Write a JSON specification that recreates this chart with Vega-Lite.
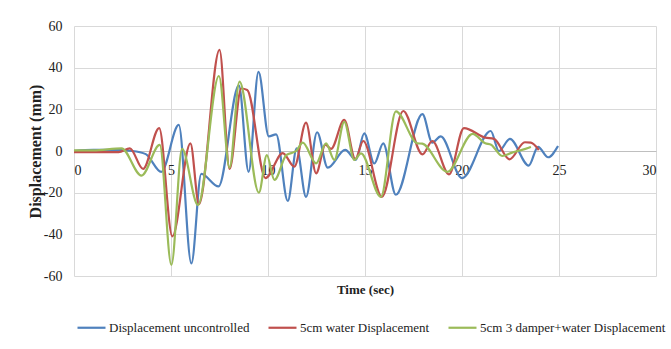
{
  "$schema": "https://vega.github.io/schema/vega-lite/v6.json",
  "width": 582,
  "height": 250,
  "autosize": {"type": "none"},
  "padding": {"left": 74, "top": 26, "right": 15, "bottom": 73},
  "background": "white",
  "config": {
    "font": "Liberation Serif",
    "view": {"stroke": null},
    "axis": {"labelFont": "Liberation Serif", "titleFont": "Liberation Serif"},
    "legend": {"labelFont": "Liberation Serif", "titleFont": "Liberation Serif"}
  },
  "data": {
    "values": [
      {"t": 0, "d": 0, "s": "Displacement uncontrolled"},
      {"t": 1, "d": 0.5, "s": "Displacement uncontrolled"},
      {"t": 2, "d": 0.5, "s": "Displacement uncontrolled"},
      {"t": 3, "d": 0, "s": "Displacement uncontrolled"},
      {"t": 3.7, "d": -1.5, "s": "Displacement uncontrolled"},
      {"t": 4.5, "d": -10, "s": "Displacement uncontrolled"},
      {"t": 5.4, "d": 12.5, "s": "Displacement uncontrolled"},
      {"t": 6.05, "d": -54, "s": "Displacement uncontrolled"},
      {"t": 6.56, "d": -11, "s": "Displacement uncontrolled"},
      {"t": 7.45, "d": -17, "s": "Displacement uncontrolled"},
      {"t": 8.5, "d": 31.5, "s": "Displacement uncontrolled"},
      {"t": 9.0, "d": -10, "s": "Displacement uncontrolled"},
      {"t": 9.51, "d": 38, "s": "Displacement uncontrolled"},
      {"t": 10.04, "d": 7, "s": "Displacement uncontrolled"},
      {"t": 10.42, "d": 8, "s": "Displacement uncontrolled"},
      {"t": 11.02, "d": -24, "s": "Displacement uncontrolled"},
      {"t": 11.48, "d": 1.3, "s": "Displacement uncontrolled"},
      {"t": 11.96, "d": -22, "s": "Displacement uncontrolled"},
      {"t": 12.53, "d": 9, "s": "Displacement uncontrolled"},
      {"t": 13.08, "d": -8, "s": "Displacement uncontrolled"},
      {"t": 13.98, "d": 0.5, "s": "Displacement uncontrolled"},
      {"t": 14.53, "d": -4.3, "s": "Displacement uncontrolled"},
      {"t": 14.96, "d": 8.5, "s": "Displacement uncontrolled"},
      {"t": 15.48, "d": -6, "s": "Displacement uncontrolled"},
      {"t": 15.94, "d": 3.7, "s": "Displacement uncontrolled"},
      {"t": 16.59, "d": -21, "s": "Displacement uncontrolled"},
      {"t": 17.96, "d": 17.7, "s": "Displacement uncontrolled"},
      {"t": 18.47, "d": 4, "s": "Displacement uncontrolled"},
      {"t": 18.9, "d": 7, "s": "Displacement uncontrolled"},
      {"t": 20.0, "d": -13, "s": "Displacement uncontrolled"},
      {"t": 21.48, "d": 9.6, "s": "Displacement uncontrolled"},
      {"t": 21.9, "d": 0, "s": "Displacement uncontrolled"},
      {"t": 22.47, "d": 5.8, "s": "Displacement uncontrolled"},
      {"t": 23.44, "d": -7, "s": "Displacement uncontrolled"},
      {"t": 23.92, "d": 2, "s": "Displacement uncontrolled"},
      {"t": 24.44, "d": -3, "s": "Displacement uncontrolled"},
      {"t": 24.95, "d": 2.4, "s": "Displacement uncontrolled"},

      {"t": 0, "d": -0.5, "s": "5cm water Displacement"},
      {"t": 1, "d": -0.5, "s": "5cm water Displacement"},
      {"t": 2.3, "d": -0.5, "s": "5cm water Displacement"},
      {"t": 2.88, "d": 1.3, "s": "5cm water Displacement"},
      {"t": 3.56, "d": -8.6, "s": "5cm water Displacement"},
      {"t": 4.39, "d": 11, "s": "5cm water Displacement"},
      {"t": 5.07, "d": -41, "s": "5cm water Displacement"},
      {"t": 6.0, "d": 3.7, "s": "5cm water Displacement"},
      {"t": 6.44, "d": -25.5, "s": "5cm water Displacement"},
      {"t": 7.5, "d": 48.5, "s": "5cm water Displacement"},
      {"t": 8.02, "d": -8.6, "s": "5cm water Displacement"},
      {"t": 8.62, "d": 30, "s": "5cm water Displacement"},
      {"t": 8.93, "d": 29.3, "s": "5cm water Displacement"},
      {"t": 9.87, "d": -13, "s": "5cm water Displacement"},
      {"t": 10.76, "d": -1, "s": "5cm water Displacement"},
      {"t": 11.36, "d": -7.5, "s": "5cm water Displacement"},
      {"t": 11.96, "d": 13.6, "s": "5cm water Displacement"},
      {"t": 12.48, "d": -10.7, "s": "5cm water Displacement"},
      {"t": 12.96, "d": 3, "s": "5cm water Displacement"},
      {"t": 13.25, "d": 1, "s": "5cm water Displacement"},
      {"t": 13.93, "d": 15, "s": "5cm water Displacement"},
      {"t": 14.5, "d": -3.8, "s": "5cm water Displacement"},
      {"t": 14.91, "d": 4.8, "s": "5cm water Displacement"},
      {"t": 15.87, "d": -22, "s": "5cm water Displacement"},
      {"t": 16.97, "d": 19.2, "s": "5cm water Displacement"},
      {"t": 17.96, "d": -1.6, "s": "5cm water Displacement"},
      {"t": 18.47, "d": 4.8, "s": "5cm water Displacement"},
      {"t": 19.33, "d": -11.2, "s": "5cm water Displacement"},
      {"t": 20.1, "d": 11, "s": "5cm water Displacement"},
      {"t": 21.2, "d": 6.4, "s": "5cm water Displacement"},
      {"t": 21.65, "d": 5.8, "s": "5cm water Displacement"},
      {"t": 22.45, "d": -4, "s": "5cm water Displacement"},
      {"t": 23.24, "d": 4.2, "s": "5cm water Displacement"},
      {"t": 23.55, "d": 4, "s": "5cm water Displacement"},
      {"t": 23.96, "d": 0.5, "s": "5cm water Displacement"},

      {"t": 0, "d": 0.3, "s": "5cm 3 damper+water Displacement"},
      {"t": 1, "d": 0.3, "s": "5cm 3 damper+water Displacement"},
      {"t": 2.45, "d": 1.3, "s": "5cm 3 damper+water Displacement"},
      {"t": 3.48, "d": -11.8, "s": "5cm 3 damper+water Displacement"},
      {"t": 4.42, "d": 2.9, "s": "5cm 3 damper+water Displacement"},
      {"t": 5.02, "d": -54.7, "s": "5cm 3 damper+water Displacement"},
      {"t": 5.57, "d": 1, "s": "5cm 3 damper+water Displacement"},
      {"t": 6.39, "d": -25.9, "s": "5cm 3 damper+water Displacement"},
      {"t": 7.47, "d": 36, "s": "5cm 3 damper+water Displacement"},
      {"t": 8.02, "d": -8, "s": "5cm 3 damper+water Displacement"},
      {"t": 8.53, "d": 33.3, "s": "5cm 3 damper+water Displacement"},
      {"t": 9.53, "d": -20, "s": "5cm 3 damper+water Displacement"},
      {"t": 9.94, "d": -2, "s": "5cm 3 damper+water Displacement"},
      {"t": 10.33, "d": -13.9, "s": "5cm 3 damper+water Displacement"},
      {"t": 10.94, "d": -2, "s": "5cm 3 damper+water Displacement"},
      {"t": 11.45, "d": 0, "s": "5cm 3 damper+water Displacement"},
      {"t": 11.79, "d": 4, "s": "5cm 3 damper+water Displacement"},
      {"t": 12.48, "d": -5.9, "s": "5cm 3 damper+water Displacement"},
      {"t": 12.99, "d": 3.7, "s": "5cm 3 damper+water Displacement"},
      {"t": 13.42, "d": -4.3, "s": "5cm 3 damper+water Displacement"},
      {"t": 13.93, "d": 14, "s": "5cm 3 damper+water Displacement"},
      {"t": 14.45, "d": -4.3, "s": "5cm 3 damper+water Displacement"},
      {"t": 14.79, "d": -1.1, "s": "5cm 3 damper+water Displacement"},
      {"t": 15.82, "d": -22, "s": "5cm 3 damper+water Displacement"},
      {"t": 16.59, "d": 19, "s": "5cm 3 damper+water Displacement"},
      {"t": 17.7, "d": 3.7, "s": "5cm 3 damper+water Displacement"},
      {"t": 17.95, "d": 3.5, "s": "5cm 3 damper+water Displacement"},
      {"t": 19.24, "d": -10, "s": "5cm 3 damper+water Displacement"},
      {"t": 20.55, "d": 8.2, "s": "5cm 3 damper+water Displacement"},
      {"t": 21.2, "d": 3.7, "s": "5cm 3 damper+water Displacement"},
      {"t": 21.5, "d": 3, "s": "5cm 3 damper+water Displacement"},
      {"t": 22.07, "d": -2.4, "s": "5cm 3 damper+water Displacement"},
      {"t": 22.58, "d": -0.8, "s": "5cm 3 damper+water Displacement"},
      {"t": 23.44, "d": 1.6, "s": "5cm 3 damper+water Displacement"},
      {"t": 23.55, "d": 2, "s": "5cm 3 damper+water Displacement"}
    ]
  },
  "mark": {"type": "line", "interpolate": "monotone", "strokeWidth": 2.2},
  "encoding": {
    "x": {
      "field": "t",
      "type": "quantitative",
      "scale": {"domain": [0, 30], "nice": false},
      "axis": {
        "title": "Time (sec)",
        "values": [0, 5, 10, 15, 20, 25, 30],
        "offset": -125,
        "domainColor": "#bfbfbf",
        "domainWidth": 1.2,
        "ticks": false,
        "labelPadding": 12,
        "labelFontSize": 14,
        "labelColor": "#222222",
        "gridColor": "#d9d9d9",
        "gridWidth": 1,
        "titleFontSize": 13,
        "titleFontWeight": "bold",
        "titleColor": "#222222",
        "titleY": 138,
        "titleBaseline": "middle"
      }
    },
    "y": {
      "field": "d",
      "type": "quantitative",
      "scale": {"domain": [-60, 60], "nice": false},
      "axis": {
        "title": "Displacement (mm)",
        "values": [-60, -40, -20, 0, 20, 40, 60],
        "labelExpr": "'' + datum.value",
        "domain": false,
        "ticks": false,
        "labelPadding": 12,
        "labelFontSize": 14,
        "labelColor": "#222222",
        "gridColor": "#d9d9d9",
        "gridWidth": 1,
        "titleFontSize": 16,
        "titleFontWeight": "bold",
        "titleColor": "#222222",
        "titleAngle": -90,
        "titleX": -39,
        "titleY": 125,
        "titleAlign": "center",
        "titleBaseline": "middle"
      }
    },
    "color": {
      "field": "s",
      "type": "nominal",
      "sort": ["Displacement uncontrolled", "5cm water Displacement", "5cm 3 damper+water Displacement"],
      "scale": {
        "domain": ["Displacement uncontrolled", "5cm water Displacement", "5cm 3 damper+water Displacement"],
        "range": ["#4F81BD", "#C0504D", "#9BBB59"]
      },
      "legend": {
        "title": null,
        "orient": "none",
        "direction": "horizontal",
        "legendX": 2,
        "legendY": 286,
        "symbolType": "stroke",
        "symbolSize": 784,
        "symbolStrokeWidth": 2.2,
        "labelFontSize": 13,
        "labelLimit": 400,
        "labelColor": "#222222",
        "labelOffset": 2,
        "columnPadding": 14
      }
    }
  }
}
